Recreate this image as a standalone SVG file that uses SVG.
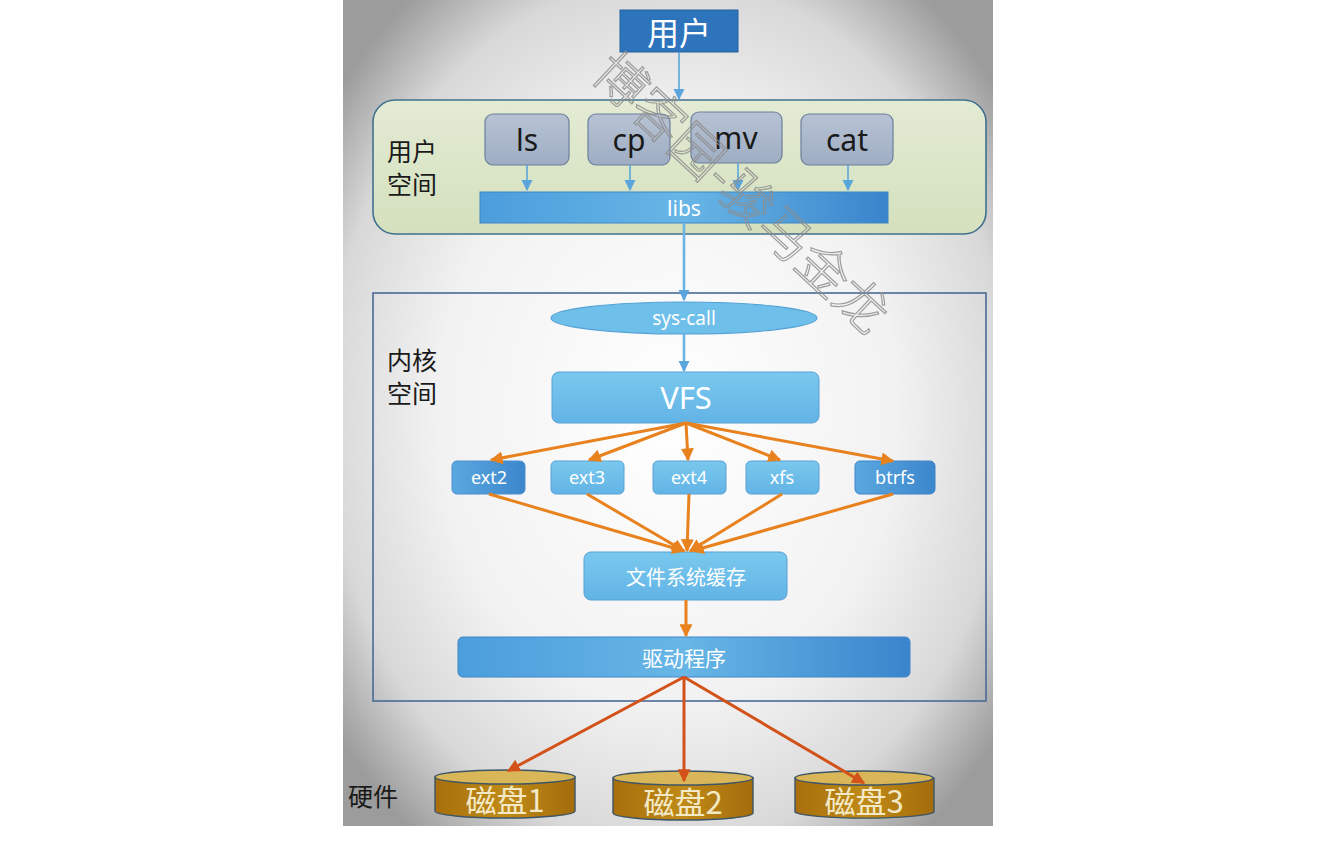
<svg xmlns="http://www.w3.org/2000/svg" width="1336" height="850" viewBox="0 0 1336 850">
<defs>
<radialGradient id="bg" cx="0.5" cy="0.5" r="0.64">
<stop offset="0" stop-color="#ffffff"/>
<stop offset="0.55" stop-color="#f2f2f2"/>
<stop offset="0.82" stop-color="#d8d8d8"/>
<stop offset="1" stop-color="#9c9c9c"/>
</radialGradient>
<linearGradient id="green" x1="0" y1="0" x2="0" y2="1">
<stop offset="0" stop-color="#e3ebd4"/>
<stop offset="1" stop-color="#d4e0bd"/>
</linearGradient>
<linearGradient id="gray" x1="0" y1="0" x2="0" y2="1">
<stop offset="0" stop-color="#b7c3d4"/>
<stop offset="1" stop-color="#9fadc3"/>
</linearGradient>
<linearGradient id="bar" x1="0" y1="0" x2="1" y2="0">
<stop offset="0" stop-color="#4b9ddc"/>
<stop offset="0.5" stop-color="#67b6e6"/>
<stop offset="1" stop-color="#3a84cc"/>
</linearGradient>
<linearGradient id="light" x1="0" y1="0" x2="0" y2="1">
<stop offset="0" stop-color="#7ac8ee"/>
<stop offset="1" stop-color="#62b4e6"/>
</linearGradient>
<linearGradient id="dark" x1="0" y1="0" x2="1" y2="0">
<stop offset="0" stop-color="#5aa8e0"/>
<stop offset="1" stop-color="#3c86cc"/>
</linearGradient>
<linearGradient id="disk" x1="0" y1="0" x2="1" y2="0">
<stop offset="0" stop-color="#a86f0c"/>
<stop offset="0.5" stop-color="#bf8a17"/>
<stop offset="1" stop-color="#a56c0c"/>
</linearGradient>
<marker id="ab" viewBox="0 0 10 10" refX="9" refY="5" markerWidth="11" markerHeight="12" markerUnits="userSpaceOnUse" orient="auto">
<path d="M0,0 L10,5 L0,10 z" fill="#5aa5dc"/>
</marker>
<marker id="ao" viewBox="0 0 10 10" refX="9" refY="5" markerWidth="13" markerHeight="13" markerUnits="userSpaceOnUse" orient="auto">
<path d="M0,0 L10,5 L0,10 z" fill="#e8821e"/>
</marker>
<marker id="ar" viewBox="0 0 10 10" refX="9" refY="5" markerWidth="13" markerHeight="13" markerUnits="userSpaceOnUse" orient="auto">
<path d="M0,0 L10,5 L0,10 z" fill="#d2521a"/>
</marker>
<style>
.t{font-family:"Noto Sans","Noto Sans CJK SC",sans-serif;text-anchor:middle;dominant-baseline:central}
.w{fill:#ffffff}
.k{fill:#1a1a1a}
.lab{font-family:"Noto Sans CJK SC",sans-serif;font-size:25px;fill:#1a1a1a}
.cmd{fill:url(#gray);stroke:#6c7f9c;stroke-width:1.2}
.fs{fill:url(#light);stroke:#5aa0d4;stroke-width:1}
.blue{stroke:#5aa5dc;stroke-width:1.6;fill:none;marker-end:url(#ab)}
.blue2{stroke:#6ab4e4;stroke-width:2.6;fill:none;marker-end:url(#ab)}
.or{stroke:#e8821e;stroke-width:3;fill:none;marker-end:url(#ao)}
.rd{stroke:#d2521a;stroke-width:3;fill:none;marker-end:url(#ar)}
.dt{font-family:"Noto Sans CJK SC",sans-serif;font-size:31px;fill:#f3e9c6;text-anchor:middle;dominant-baseline:central}
</style>
</defs>
<rect x="343" y="0" width="650" height="826" fill="url(#bg)"/>

<g id="userspace">
<rect x="373" y="100" width="613" height="134" rx="22" fill="url(#green)" stroke="#41708f" stroke-width="1.6"/>
<text class="lab" x="387" y="161">用户</text>
<text class="lab" x="387" y="194">空间</text>
</g>
<g id="kernelspace">
<rect x="373" y="293" width="613" height="408" fill="none" stroke="#4a6a96" stroke-width="1.6"/>
<text class="lab" x="387" y="370">内核</text>
<text class="lab" x="387" y="403">空间</text>
</g>
<g id="hardware">
<text class="lab" x="348" y="806">硬件</text>
</g>

<g id="user">
<rect x="620" y="10" width="118" height="42" fill="#2e74bd" stroke="#25609e" stroke-width="1"/>
<text class="t w" x="679" y="31" style="font-family:'Noto Sans CJK SC',sans-serif;font-size:32px">用户</text>
</g>
<g id="ls"><rect class="cmd" x="485" y="114" width="84" height="51" rx="8"/><text class="t k" x="527" y="139" font-size="30">ls</text></g>
<g id="cp"><rect class="cmd" x="588" y="114" width="82" height="51" rx="8"/><text class="t k" x="629" y="139" font-size="30">cp</text></g>
<g id="mv"><rect class="cmd" x="691" y="112" width="91" height="51" rx="8"/><text class="t k" x="736" y="137" font-size="30">mv</text></g>
<g id="cat"><rect class="cmd" x="801" y="114" width="92" height="51" rx="8"/><text class="t k" x="847" y="139" font-size="30">cat</text></g>
<g id="libs"><rect x="480" y="192" width="408" height="31" fill="url(#bar)" stroke="#3f86c8" stroke-width="1"/><text class="t w" x="684" y="208" font-size="21">libs</text></g>
<g id="syscall"><ellipse cx="684" cy="318" rx="133" ry="16" fill="#6ec0ea" stroke="#55a2d6" stroke-width="1.2"/><text class="t w" x="684" y="318" font-size="19">sys-call</text></g>
<g id="vfs"><rect class="fs" x="552" y="372" width="267" height="51" rx="7"/><text class="t w" x="686" y="397" font-size="31">VFS</text></g>
<g id="ext2"><rect x="452" y="461" width="73" height="33" rx="5" fill="url(#dark)" stroke="#4a8fd0"/><text class="t w" x="489" y="477" font-size="18">ext2</text></g>
<g id="ext3"><rect class="fs" x="551" y="461" width="73" height="33" rx="5"/><text class="t w" x="587" y="477" font-size="18">ext3</text></g>
<g id="ext4"><rect class="fs" x="653" y="461" width="73" height="33" rx="5"/><text class="t w" x="689" y="477" font-size="18">ext4</text></g>
<g id="xfs"><rect class="fs" x="746" y="461" width="73" height="33" rx="5"/><text class="t w" x="782" y="477" font-size="18">xfs</text></g>
<g id="btrfs"><rect x="855" y="461" width="80" height="33" rx="5" fill="url(#dark)" stroke="#3f84c8"/><text class="t w" x="895" y="477" font-size="18">btrfs</text></g>
<g id="cache"><rect class="fs" x="584" y="552" width="203" height="48" rx="7"/><text class="t w" x="686" y="576" font-size="20" style="font-family:'Noto Sans CJK SC',sans-serif">文件系统缓存</text></g>
<g id="driver"><rect x="458" y="637" width="452" height="40" rx="5" fill="url(#bar)" stroke="#3f86c8" stroke-width="1"/><text class="t w" x="684" y="657" font-size="21" style="font-family:'Noto Sans CJK SC',sans-serif">驱动程序</text></g>

<g id="disk1">
<path d="M435,777 L435,811 A70,7 0 0 0 575,811 L575,777 Z" fill="url(#disk)" stroke="#3d5566" stroke-width="1.4"/>
<ellipse cx="505" cy="777" rx="70" ry="7" fill="#d9b758" stroke="#3d5566" stroke-width="1.4"/>
<text class="dt" x="505" y="798">磁盘1</text>
</g>
<g id="disk2">
<path d="M613,778 L613,813 A70,7 0 0 0 753,813 L753,778 Z" fill="url(#disk)" stroke="#3d5566" stroke-width="1.4"/>
<ellipse cx="683" cy="778" rx="70" ry="7" fill="#d9b758" stroke="#3d5566" stroke-width="1.4"/>
<text class="dt" x="683" y="800">磁盘2</text>
</g>
<g id="disk3">
<path d="M795,778 L795,812 A70,7 0 0 0 934,812 L934,778 Z" fill="url(#disk)" stroke="#3d5566" stroke-width="1.4"/>
<ellipse cx="864" cy="778" rx="69" ry="7" fill="#d9b758" stroke="#3d5566" stroke-width="1.4"/>
<text class="dt" x="864" y="799">磁盘3</text>
</g>

<g id="connectors">
<path class="blue" d="M679,52 L679,99"/>
<path class="blue" d="M527,165 L527,190"/>
<path class="blue" d="M630,165 L630,190"/>
<path class="blue" d="M738,163 L738,190"/>
<path class="blue" d="M848,165 L848,190"/>
<path class="blue2" d="M684,223 L684,300"/>
<path class="blue2" d="M684,334 L684,371"/>
<path class="or" d="M686,423 L491,460"/>
<path class="or" d="M686,423 L589,460"/>
<path class="or" d="M686,423 L688,460"/>
<path class="or" d="M686,423 L780,460"/>
<path class="or" d="M686,423 L893,461"/>
<path class="or" d="M489,494 L684,551"/>
<path class="or" d="M587,494 L684,551"/>
<path class="or" d="M689,494 L687,551"/>
<path class="or" d="M782,494 L690,551"/>
<path class="or" d="M893,494 L692,551"/>
<path class="or" d="M686,600 L686,636"/>
<path class="rd" d="M684,677 L508,771"/>
<path class="rd" d="M684,677 L684,781"/>
<path class="rd" d="M684,677 L864,783"/>
</g>

<text x="744" y="190" transform="rotate(43 744 190)" text-anchor="middle" dominant-baseline="central" font-family="Noto Sans CJK SC,sans-serif" font-size="52" font-weight="300" fill="none" stroke="#8f8f8f" stroke-width="1.2" opacity="0.85">博客园-骏马金龙</text>
</svg>
